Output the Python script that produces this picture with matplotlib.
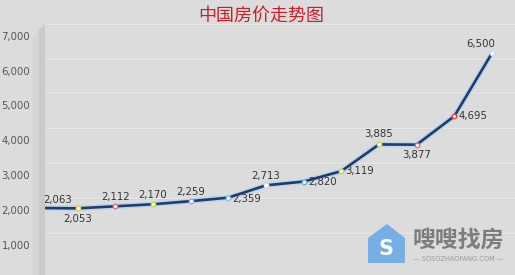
import matplotlib
matplotlib.use('Agg')
import matplotlib.pyplot as plt
from matplotlib import transforms
from matplotlib.patches import Polygon
from matplotlib.ticker import FuncFormatter

plt.rcParams['font.family'] = ['DejaVu Sans', 'Noto Sans CJK SC']

title = '中国房价走势图'
prices = [2063, 2053, 2112, 2170, 2259, 2359, 2713, 2820, 3119, 3885, 3877, 4695, 6500]
y_ticks = [1000, 2000, 3000, 4000, 5000, 6000, 7000]

# styling per point: marker edge colour, label offset (pt), alignment
edge_cols = ['#8fc0e8', '#e8d040', '#e07080', '#c8d840', '#b0a0d8', '#8fc0e8', '#e0e0e0',
             '#60b8c8', '#c8d840', '#e8d040', '#e07080', '#e04050', '#d0e0f0']
offsets = [(2, 2), (0, -4), (0, 3), (0, 3), (0, 3), (3, -1), (0, 3),
           (3, 0), (3, 0), (0, 4), (0, -4), (3, 0), (-8, 3)]
aligns = [('left', 'bottom'), ('center', 'top'), ('center', 'bottom'), ('center', 'bottom'),
          ('center', 'bottom'), ('left', 'center'), ('center', 'bottom'), ('left', 'center'),
          ('left', 'center'), ('center', 'bottom'), ('center', 'top'), ('left', 'center'),
          ('center', 'bottom')]

W, H = 515, 275
bg = '#dcdcdc'


def fx(px):
    return px / W


def fy(py):
    return 1 - py / H


def main():
    fig = plt.figure(figsize=(W / 100, H / 100), dpi=100, facecolor=bg)

    # left side wall of the pseudo-3D plot area
    wall = Polygon([(fx(33), fy(36)), (fx(45), fy(24)), (fx(45), fy(275)), (fx(33), fy(275))],
                   closed=True, transform=fig.transFigure, facecolor='#d6d6d6',
                   edgecolor='none', zorder=0)
    fig.patches.append(wall)
    shade = Polygon([(fx(39), fy(30)), (fx(45), fy(24)), (fx(45), fy(275)), (fx(39), fy(275))],
                    closed=True, transform=fig.transFigure, facecolor='#cacaca',
                    edgecolor='none', zorder=0)
    fig.patches.append(shade)

    ax = fig.add_axes([fx(33), 0, fx(482), 1 - 24 / H])
    ax.set_facecolor('none')
    xs = list(range(len(prices)))
    step = (492 - 40) / (len(prices) - 1)
    ax.set_xlim(-7 / step, (515 - 40) / step)
    ax.set_ylim(5 / 34.9 * 1000, 7335)

    # gridlines on the back wall, shifted up
    off = transforms.ScaledTranslation(0, 0.12, fig.dpi_scale_trans)
    ax.hlines(y_ticks, 12 / 482, 1, transform=ax.get_yaxis_transform() + off,
              colors='#e8e8e8', lw=1.0, zorder=1)
    ax.hlines(y_ticks, 12 / 482, 1,
              transform=ax.get_yaxis_transform() + off + transforms.ScaledTranslation(0, -0.01, fig.dpi_scale_trans),
              colors='#d4d4d4', lw=0.6, zorder=1)

    for s in ['top', 'right', 'bottom']:
        ax.spines[s].set_visible(False)
    ax.spines['left'].set_color('#b4b4b4')
    ax.spines['left'].set_bounds(ax.get_ylim()[0], 7000)
    ax.set_xticks([])
    ax.set_yticks(y_ticks)
    ax.yaxis.set_major_formatter(FuncFormatter(lambda v, p: f'{int(v):,}'))
    ax.tick_params(axis='y', length=0, pad=2, labelsize=7.3, labelcolor='#555555')

    ax.plot(xs, prices, color='#b8d4f0', lw=4.0, solid_capstyle='round', zorder=3)
    ax.plot(xs, prices, color='#233c66', lw=1.9, solid_capstyle='round', zorder=4)
    for x, v, ec, o, (ha, va) in zip(xs, prices, edge_cols, offsets, aligns):
        ax.plot(x, v, 'o', ms=3.2, mfc='white', mec=ec, mew=1.0, zorder=5)
        ax.annotate(f'{v:,}', (x, v), xytext=o, textcoords='offset points',
                    ha=ha, va=va, fontsize=7.3, color='#333333', zorder=6)

    fig.text(fx(261), fy(16), title, ha='center', va='center', fontsize=13,
             color='#c8202a', family=['Noto Sans CJK SC', 'DejaVu Sans'])

    # watermark
    house = Polygon([(fx(368), fy(238)), (fx(387), fy(224)), (fx(405), fy(238)),
                     (fx(405), fy(263)), (fx(368), fy(263))], closed=True,
                    transform=fig.transFigure, facecolor='#6aaae6', edgecolor='none',
                    alpha=0.9, zorder=10)
    fig.patches.append(house)
    fig.text(fx(386), fy(249), 'S', ha='center', va='center', fontsize=15,
             color='white', weight='bold', zorder=11)
    fig.text(fx(458), fy(240), '嗖嗖找房', ha='center', va='center', fontsize=16.5,
             color='#7c7c7c', weight='bold', family=['Noto Sans CJK SC', 'DejaVu Sans'])
    fig.text(fx(458), fy(259), '— SOSOZHAOFANG.COM —', ha='center', va='center',
             fontsize=4.8, color='#9a9a9a')

    fig.savefig('out.png', dpi=100, facecolor=bg)


if __name__ == '__main__':
    main()
